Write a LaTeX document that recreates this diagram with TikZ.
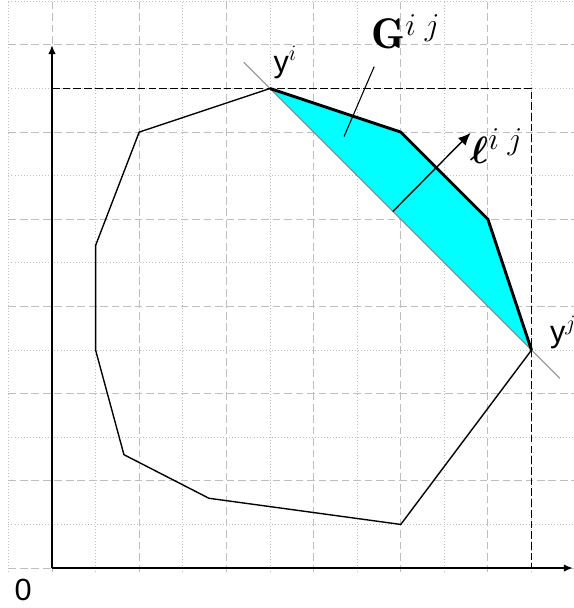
\documentclass[tikz,border=0pt]{standalone}
\usepackage{fontspec}
\usepackage{amsmath}
\usepackage{bm}
\usetikzlibrary{arrows.meta}
\newfontfamily\labelfont{Liberation Sans}
\definecolor{gridgray}{RGB}{190,190,190}
\definecolor{cyanfill}{RGB}{0,255,255}

\begin{document}
\begin{tikzpicture}[
    gridmajor/.style={gridgray, line width=0.6pt, dash pattern=on 5pt off 2.5pt},
    gridminor/.style={gridgray, line width=0.6pt, dash pattern=on 0.6pt off 1.4pt},
    hull/.style={line width=0.9pt, line join=round},
    face/.style={line width=1.9pt, line join=round},
    bound/.style={line width=0.9pt, dash pattern=on 5pt off 2pt},
    axis/.style={line width=1.2pt, -{Latex[length=6pt,width=5pt]}},
    every node/.style={font=\fontsize{28}{32}\selectfont},
    sanslabel/.style={font=\labelfont\fontsize{20}{24}\selectfont}]
    \useasboundingbox (-1.193,-0.917) rectangle (11.972,13.03);

    % grid
    \foreach \y in {1,3,...,13}
        \draw[gridminor] (-1,\y) -- (11.972,\y);
    \foreach \y in {0,2,...,12}
        \draw[gridmajor] (-1,\y) -- (11.972,\y);
    \foreach \x in {-1,1,...,11}
        \draw[gridminor] (\x,-0.1) -- (\x,13.03);
    \foreach \x in {0,2,...,10}
        \draw[gridmajor] (\x,-0.1) -- (\x,13.03);

    \coordinate (O) at (0,0);
    \coordinate (yi) at (5,11);
    \coordinate (yj) at (11,5);
    \coordinate (a1) at (8,10);
    \coordinate (a2) at (10,8);
    \coordinate (b1) at (2,10);
    \coordinate (b2) at (1,7.4);
    \coordinate (b3) at (1,5);
    \coordinate (b4) at (1.65,2.6);
    \coordinate (b5) at (3.6,1.6);
    \coordinate (b6) at (8,1);

    \fill[cyanfill] (yi) -- (a1) -- (a2) -- (yj) -- cycle;
    \draw[gray, line width=0.6pt, shorten <=-0.85cm, shorten >=-0.92cm] (yi) -- (yj);
    \draw[hull] (yi) -- (b1) -- (b2) -- (b3) -- (b4) -- (b5) -- (b6) -- (yj);
    \draw[face] (yi) -- (a1) -- (a2) -- (yj);

    % box and axes
    \coordinate (boxtop) at (0,11);
    \coordinate (boxfoot) at (11,0);
    \draw[bound] (boxtop) -| (boxfoot);
    \coordinate (yend) at (0,12);
    \coordinate (xend) at (11.95,0);
    \draw[axis] (O) -- (yend);
    \draw[axis] (O) -- (xend);

    % normal vector
    \coordinate (lbase) at (7.82,8.18);
    \coordinate (ltip) at (9.6,9.98);
    \draw[line width=0.9pt, -{Latex[length=8pt,width=7pt]}] (lbase) -- (ltip);

    \node (Glab) at (8.12,12.3) {$\mathbf{G}^{i\;j}$};
    \coordinate (gfrom) at (7.39,11.5);
    \coordinate (gto) at (6.7,9.9);
    \draw[line width=0.7pt] (gfrom) -- (gto);
    \node (llab) at (10.2,9.68) {$\bm{\ell}^{i\;j}$};
    \node[sanslabel] (yilab) at (5.35,11.6) {y$^{i}$};
    \node[sanslabel, anchor=west] (yjlab) at (11.3,5.4) {y$^{j}$};
    \node[sanslabel] (zero) at (-0.66,-0.5) {0};
\end{tikzpicture}
\end{document}
